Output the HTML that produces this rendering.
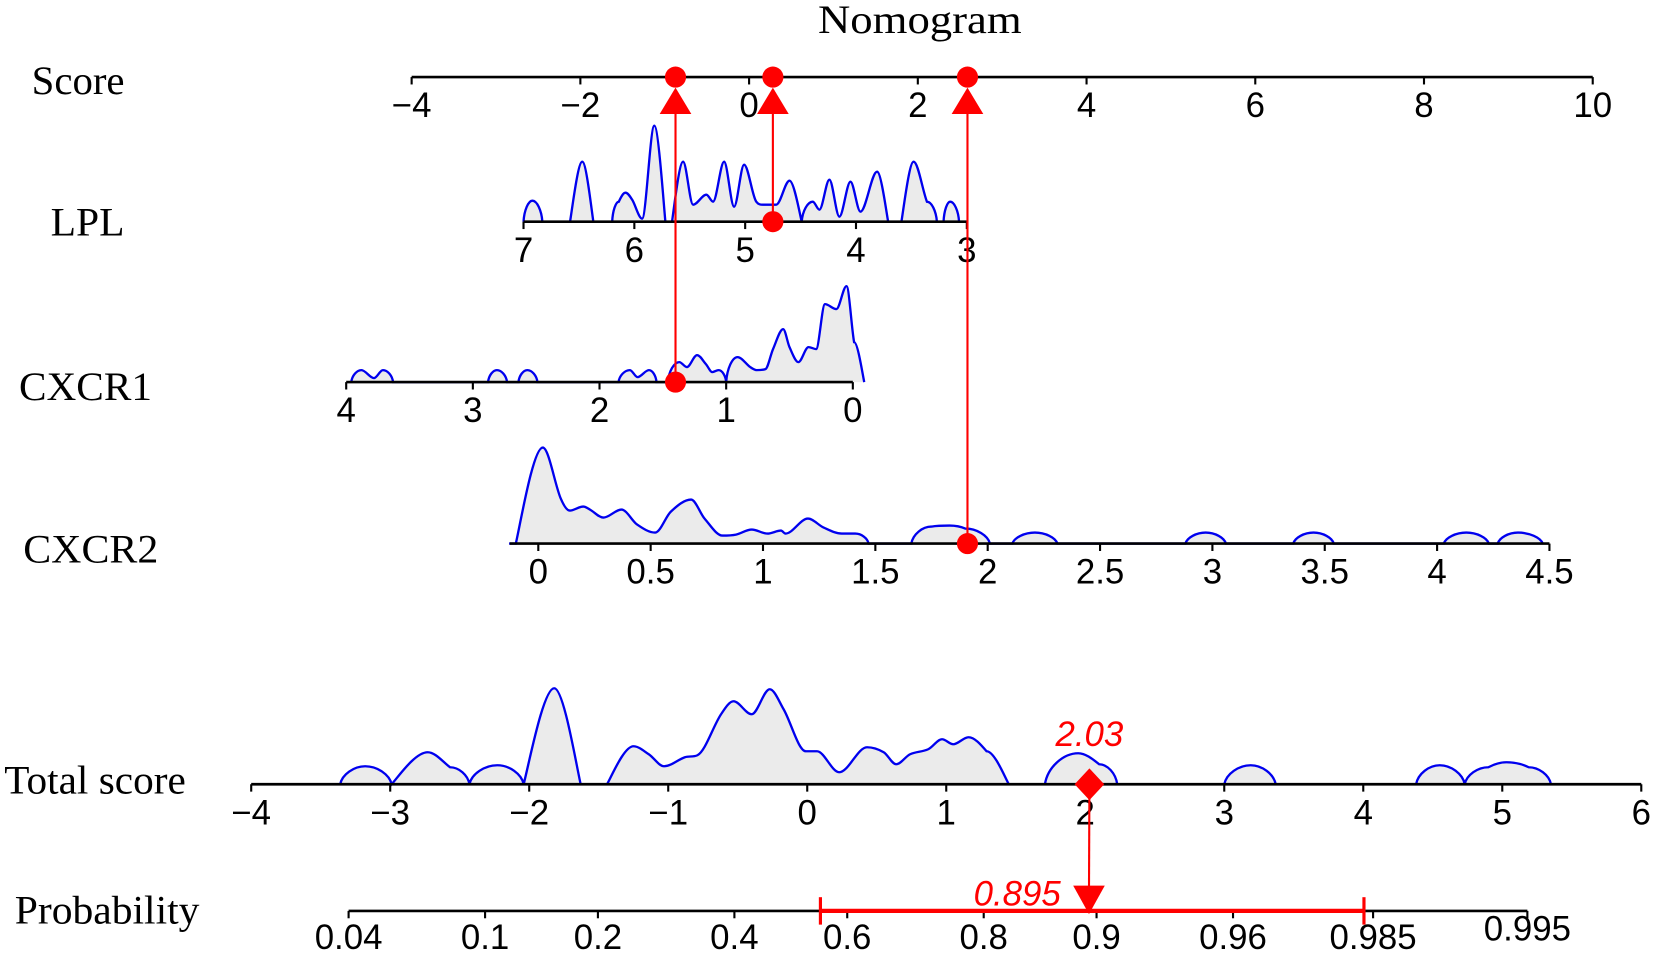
<!DOCTYPE html>
<html><head><meta charset="utf-8"><style>
html,body{margin:0;padding:0;background:#fff;}
svg{display:block;}
.lab{font-family:"Liberation Serif",serif;font-size:38px;fill:#000;}
.tk{font-family:"Liberation Sans",sans-serif;font-size:33px;fill:#000;}
</style></head><body>
<svg id="chart" width="1655" height="960" viewBox="0 0 1568 909.5" xmlns="http://www.w3.org/2000/svg">
<text x="775" y="31" textLength="193" lengthAdjust="spacingAndGlyphs" class="lab">Nomogram</text>
<text x="30" y="89" textLength="88" lengthAdjust="spacingAndGlyphs" class="lab">Score</text>
<text x="48" y="223" textLength="70" lengthAdjust="spacingAndGlyphs" class="lab">LPL</text>
<text x="18" y="379" textLength="126" lengthAdjust="spacingAndGlyphs" class="lab">CXCR1</text>
<text x="22" y="533" textLength="128" lengthAdjust="spacingAndGlyphs" class="lab">CXCR2</text>
<text x="4" y="752" textLength="172" lengthAdjust="spacingAndGlyphs" class="lab">Total score</text>
<text x="14" y="875" textLength="175" lengthAdjust="spacingAndGlyphs" class="lab">Probability</text>
<g id="g"></g>
</svg>
<script>
// ---- data ----
const scoreTicks = [-4,-2,0,2,4,6,8,10];
const lplTicks = [7,6,5,4,3];
const cxcr1Ticks = [4,3,2,1,0];
const cxcr2Ticks = [0,0.5,1,1.5,2,2.5,3,3.5,4,4.5];
const cxcr2TickLabels = ["0","0.5","1","1.5","2","2.5","3","3.5","4","4.5"];
const totalTicks = [-4,-3,-2,-1,0,1,2,3,4,5,6];
const probTicks = [0.04,0.1,0.2,0.4,0.6,0.8,0.9,0.96,0.985,0.995];
const probTickLabels = ["0.04","0.1","0.2","0.4","0.6","0.8","0.9","0.96","0.985","0.995"];
const logitIntercept = 0.118, logitSlope = 0.999;

const lplDensX = [7.00,6.92,6.83,6.58,6.47,6.37,6.20,6.14,6.08,6.02,5.93,5.82,5.72,5.66,5.56,5.47,5.35,5.29,5.19,5.10,5.01,4.90,4.84,4.72,4.60,4.49,4.39,4.33,4.24,4.15,4.05,3.96,3.81,3.71,3.59,3.48,3.36,3.27,3.21,3.15,3.07];
const lplDensY = [0,21,0,0,60,0,0,20,29,22,3,96,0,0,60,17,27,20,60,15,57,20,17,17,41,0,20,12,42,5,40,10,50,0,0,60,20,0,0,20,0];
const cxcr1DensX = [3.96,3.88,3.78,3.71,3.63,2.88,2.81,2.73,2.64,2.57,2.49,1.85,1.76,1.70,1.61,1.55,1.46,1.37,1.31,1.23,1.16,1.11,1.06,1.00,0.91,0.81,0.76,0.69,0.63,0.55,0.50,0.43,0.35,0.29,0.22,0.13,0.05,-0.01,-0.09];
const cxcr1DensY = [0,12,4,12,0,0,12,0,0,12,0,0,12,5,12,0,0,20,15,27,18,10,12,0,25,15,12,13,33,53,35,20,35,33,78,73,96,40,0];
const cxcr2DensX = [-0.13,-0.10,0.02,0.10,0.14,0.20,0.23,0.29,0.37,0.44,0.52,0.59,0.68,0.74,0.82,0.88,0.95,1.02,1.08,1.10,1.20,1.27,1.35,1.41,1.47,1.66,1.75,1.83,1.90,2.01,2.11,2.21,2.31,2.88,2.97,3.06,3.36,3.45,3.54,4.03,4.13,4.23,4.27,4.36,4.47];
const cxcr2DensY = [0,0,96,45,33,37,34,26,34,19,11,32,44,25,8,9,14,10,13,10,25,16,10,10,0,0,17,18,15,0,0,11,0,0,11,0,0,11,0,0,11,0,0,11,0];
const totalDensX = [-3.36,-3.18,-2.99,-2.73,-2.57,-2.43,-2.23,-2.04,-1.82,-1.63,-1.44,-1.25,-1.14,-1.03,-0.88,-0.79,-0.62,-0.53,-0.40,-0.27,-0.17,-0.01,0.07,0.23,0.43,0.55,0.64,0.74,0.87,0.97,1.05,1.16,1.29,1.45,1.71,1.95,2.10,2.23,3.00,3.19,3.37,4.38,4.55,4.73,4.90,5.03,5.19,5.35];
const totalDensY = [0,18,0,32,17,0,19,0,96,0,0,38,30,18,27,29,70,83,70,95,75,33,33,12,37,32,20,30,35,45,40,47,33,0,0,31,20,0,0,19,0,0,19,0,17,22,17,0];

const lplValue = [4.75];
const cxcr1Value = [1.4];
const cxcr2Value = [1.91];
const totalValue = [2.03];
const probValue = [0.895];
const probCI = [0.553, 0.984];

// ---- axes ----
const scoreX = v => 390 + (v+4)*(1509-390)/14;
const lplX = v => 496 + (7-v)*(916-496)/4;
const cxcr1X = v => 328 + (4-v)*(808-328)/4;
const cxcr2X = v => 510 + v*(1468-510)/4.5;
const totalX = v => 238 + (v+4)*(1555-238)/10;
const probX = p => totalX((Math.log(p/(1-p)) - logitIntercept)/logitSlope);
const dScale = 1/1.0555;

const NS="http://www.w3.org/2000/svg", g=document.getElementById('g');
function mk(t,a){const e=document.createElementNS(NS,t);for(const k in a)e.setAttribute(k,a[k]);g.appendChild(e);return e;}

function smoothPath(pts,y0){
  const n=pts.length, m=[];
  for(let i=0;i<n;i++){
    const a=pts[Math.max(0,i-1)], b=pts[Math.min(n-1,i+1)];
    let s=(b[1]-a[1])/((b[0]-a[0])||1);
    if(i>0&&i<n-1){
      const d0=(pts[i][1]-pts[i-1][1])/(pts[i][0]-pts[i-1][0]), d1=(pts[i+1][1]-pts[i][1])/(pts[i+1][0]-pts[i][0]);
      if(d0*d1<=0) s=0; else s=Math.sign(s)*Math.min(Math.abs(s),3*Math.abs(d0),3*Math.abs(d1));
    }
    m.push(s);
  }
  let d="M"+pts[0][0]+","+pts[0][1];
  for(let i=0;i<n-1;i++){
    const p1=pts[i],p2=pts[i+1],h=p2[0]-p1[0];
    const big=Math.abs(p1[1]-p2[1])>30;
    const lift=big?0.25:0.55, off=big?0.2:0.08, top=big?0.35:0.45;
    if(Math.abs(p1[1]-y0)<0.01 && p2[1]<y0-0.5){ d+=" C"+(p1[0]+h*off)+","+(p1[1]-(y0-p2[1])*lift)+" "+(p2[0]-h*top)+","+p2[1]+" "+p2[0]+","+p2[1]; continue; }
    if(Math.abs(p2[1]-y0)<0.01 && p1[1]<y0-0.5){ d+=" C"+(p1[0]+h*top)+","+p1[1]+" "+(p2[0]-h*off)+","+(p2[1]-(y0-p1[1])*lift)+" "+p2[0]+","+p2[1]; continue; }
    d+=" C"+(p1[0]+h/3)+","+(p1[1]+m[i]*h/3)+" "+(p2[0]-h/3)+","+(p2[1]-m[i+1]*h/3)+" "+p2[0]+","+p2[1];
  }
  return d;
}
function density(xs,ys,fx,y0,name){
  let pts=xs.map((v,i)=>[fx(v), y0-ys[i]*dScale]);
  pts.sort((a,b)=>a[0]-b[0]);
  const d=smoothPath(pts,y0);
  const f=mk('path',{d:d+" L"+pts[pts.length-1][0]+","+y0+" L"+pts[0][0]+","+y0+" Z",fill:'#ebebeb',stroke:'none'});
  
  
  const l=mk('path',{d:d,fill:'none',stroke:'#0000ee','stroke-width':2.2});
  
  
}
function axis(x1,x2,y,ticks,labels,fx,name,ly){
  const a=mk('line',{x1:x1,x2:x2,y1:y,y2:y,stroke:'#000','stroke-width':2.5});
  
  
  ticks.forEach((t,i)=>{
    const x=fx(t);
    const tl=mk('line',{x1:x,x2:x,y1:y,y2:y+7,stroke:'#000','stroke-width':2});
    
    
    const tx=mk('text',{x:x,y:(ly?ly[i]:y+38),'text-anchor':'middle','class':'tk'});
    tx.textContent=labels?labels[i]:(t<0?"\u2212"+(-t):String(t));
    
    
  });
}

density(lplDensX,lplDensY,lplX,210,'lpl');
density(cxcr1DensX,cxcr1DensY,cxcr1X,362,'cxcr1');
density(cxcr2DensX,cxcr2DensY,cxcr2X,515,'cxcr2');
density(totalDensX,totalDensY,totalX,743,'total-score');

axis(390,1509,73,scoreTicks,null,scoreX,'score');
axis(496,916,210,lplTicks,null,lplX,'lpl');
axis(328,808,362,cxcr1Ticks,null,cxcr1X,'cxcr1');
axis(483,1468,515,cxcr2Ticks,cxcr2TickLabels,cxcr2X,'cxcr2');
axis(238,1555,743,totalTicks,null,totalX,'total-score');
axis(probX(probTicks[0]),probX(probTicks[probTicks.length-1]),863,probTicks,probTickLabels,probX,'probability',
  probTicks.map((p,i)=> i===probTicks.length-1?891:899));

const red='#ff0000';
[[lplX(lplValue[0]),210,'lpl'],[cxcr1X(cxcr1Value[0]),362,'cxcr1'],[cxcr2X(cxcr2Value[0]),515,'cxcr2']].forEach(([x,y,n])=>{
  const l=mk('line',{x1:x,x2:x,y1:y,y2:100,stroke:red,'stroke-width':2});
  
  
  const c=mk('circle',{cx:x,cy:y,r:10,fill:red});
  
  
  const tr=mk('polygon',{points:(x-15)+",108 "+(x+15)+",108 "+x+",83",fill:red});
  
  
  const c2=mk('circle',{cx:x,cy:73,r:10,fill:red});
  
  
});

const tx=totalX(totalValue[0]);
const px=probX(probValue[0]);
const ci=mk('line',{x1:probX(probCI[0]),x2:probX(probCI[1]),y1:863,y2:863,stroke:red,'stroke-width':4});


[probCI[0],probCI[1]].forEach(p=>{
  const e=mk('line',{x1:probX(p),x2:probX(p),y1:850,y2:876,stroke:red,'stroke-width':3});
  
  
});
const vl=mk('line',{x1:tx,x2:px,y1:743,y2:845,stroke:red,'stroke-width':2});


const ar=mk('polygon',{points:(px-15)+",839 "+(px+15)+",839 "+px+",866",fill:red});


const dm=mk('polygon',{points:tx+",728 "+(tx+14)+",743 "+tx+",758 "+(tx-14)+",743",fill:red});


const tl=mk('text',{x:tx,y:707,'text-anchor':'middle','class':'tk','font-style':'italic',style:'fill:#ff0000'});
tl.textContent=totalValue[0].toFixed(2);


const pl=mk('text',{x:px-68,y:858,'text-anchor':'middle','class':'tk','font-style':'italic',style:'fill:#ff0000'});
pl.textContent=String(probValue[0]);


</script>
</body></html>
